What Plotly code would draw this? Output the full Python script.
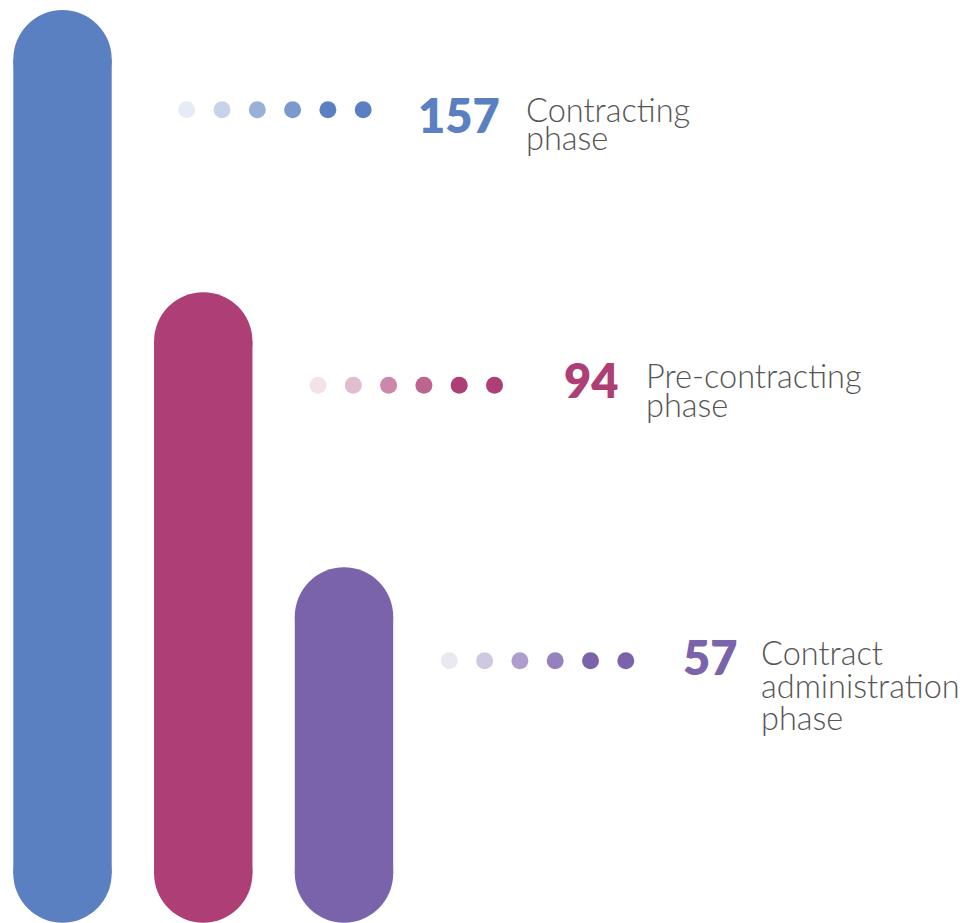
import math
import plotly.graph_objects as go

# ---- data ----
phases = ["Contracting phase", "Pre-contracting phase", "Contract administration phase"]
label_lines = [["Contracting", "phase"], ["Pre-contracting", "phase"], ["Contract", "administration", "phase"]]
counts = [157, 94, 57]
colors = ["#5b80c1", "#ad3f76", "#7a63ab"]
dot_opacity = [0.15, 0.35, 0.62, 0.80, 1.0, 1.0]

# ---- layout constants (pixels) ----
W, H = 974, 923
PXD = 1266.5            # pixels per decade on log axis
BAR_X0, BAR_STEP = 62.5, 140.75
BAR_W = 98.4
R = BAR_W / 2
TOP_PAD = 10.0          # gap above tallest bar
BOTTOM_PX = 922.7       # bottom edge of bars

ymax = math.log10(max(counts)) + TOP_PAD / PXD
ymin = ymax - H / PXD
base_val = 10 ** (ymax - (BOTTOM_PX - R) / PXD)

DOT_X0, DOT_XSTEP, DOT_SP = 186.7, 131.3, 35.3
DOT_Y0, DOT_YSTEP = 109.7, 275.5
DOT_SIZE = 17
NUM_X0, NUM_XSTEP = 502.0, 119.0
NUM_Y = [114.5, 379.5, 656.5]
LAB_X = [524.0, 644.0, 759.0]
LAB_BASE = [121.5, 387.0, 664.5]   # baseline of first label line
LINE_H = [28.0, 28.5, 32.5]        # line pitch per label
NUM_SIZE = 47
LAB_SIZE = 32.5


def hex_to_rgb(h):
    h = h.lstrip("#")
    return tuple(int(h[i:i + 2], 16) for i in (0, 2, 4))


def blend(h, a):
    r, g, b = hex_to_rgb(h)
    return "rgb(%d,%d,%d)" % tuple(round(255 - a * (255 - c)) for c in (r, g, b))


fig = go.Figure()

# pill bars on log axis
for i, (v, c) in enumerate(zip(counts, colors)):
    xc = BAR_X0 + i * BAR_STEP
    top_center = 10 ** (math.log10(v) - R / PXD)
    fig.add_trace(go.Scatter(
        x=[xc, xc], y=[base_val, top_center], mode="lines+markers",
        line=dict(color=c, width=BAR_W),
        marker=dict(color=c, size=BAR_W, line=dict(width=0)),
        hoverinfo="skip", showlegend=False, name=phases[i],
    ))

annotations = []
for i, (v, c) in enumerate(zip(counts, colors)):
    xs = [DOT_X0 + i * DOT_XSTEP + k * DOT_SP for k in range(len(dot_opacity))]
    ys = [DOT_Y0 + i * DOT_YSTEP] * len(dot_opacity)
    fig.add_trace(go.Scatter(
        x=xs, y=ys, mode="markers", yaxis="y2",
        marker=dict(size=DOT_SIZE, color=[blend(c, a) for a in dot_opacity], line=dict(width=0)),
        hoverinfo="skip", showlegend=False,
    ))
    annotations.append(dict(
        x=NUM_X0 + i * NUM_XSTEP, y=NUM_Y[i], xref="x", yref="y2",
        text=str(v), showarrow=False, xanchor="right", yanchor="middle",
        font=dict(family="Lato", size=NUM_SIZE, color=c, weight=800),
    ))
    # one multi-line label; base font sets the line pitch, spans set glyph size
    base_size = LINE_H[i] / 1.3
    txt = "<br>".join("<span style='font-size:%spx'>%s</span>" % (LAB_SIZE, ln) for ln in label_lines[i])
    annotations.append(dict(
        x=LAB_X[i], y=LAB_BASE[i] - 0.987 * LAB_SIZE - 1, xref="x", yref="y2",
        text=txt, showarrow=False, xanchor="left", yanchor="top", align="left",
        font=dict(family="Lato", size=base_size, color="#555555", weight=300),
    ))

fig.update_layout(
    width=W, height=H, margin=dict(l=0, r=0, t=0, b=0),
    paper_bgcolor="white", plot_bgcolor="white",
    xaxis=dict(range=[0, W], visible=False, fixedrange=True),
    yaxis=dict(type="log", range=[ymin, ymax], visible=False, fixedrange=True),
    yaxis2=dict(range=[H, 0], overlaying="y", visible=False, fixedrange=True),
    annotations=annotations,
    hovermode=False,
)

fig.write_html("out.html")
